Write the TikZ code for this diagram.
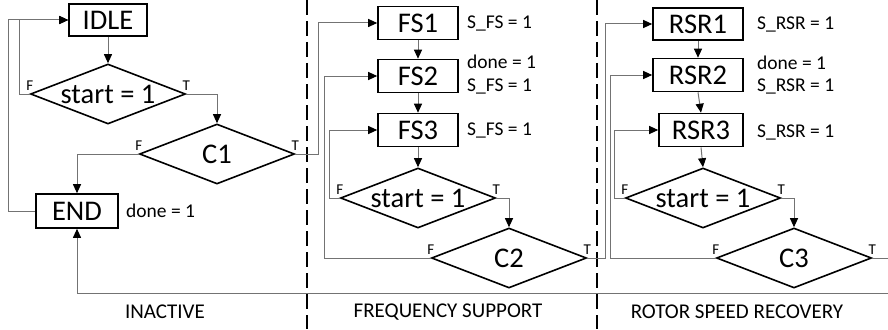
\documentclass[tikz,border=0pt]{standalone}
\usepackage{fontspec}
\setmainfont{Carlito}
\usetikzlibrary{shapes.geometric,arrows.meta}
\definecolor{conn}{gray}{0.45}
\tikzset{
  stbox/.style={draw=black, line width=1.6pt, inner sep=0pt, minimum width=80pt, minimum height=33pt, font=\fontsize{28.5}{30}\selectfont},
  dec/.style={diamond, draw=black, line width=1.6pt, inner sep=0pt, minimum width=155pt, minimum height=60pt, aspect=2.6, font=\fontsize{28.5}{30}\selectfont},
  lab/.style={anchor=west, inner sep=0pt, font=\fontsize{19.5}{20}\selectfont},
  tf/.style={anchor=south, inner sep=0pt, yshift=3pt, font=\fontsize{15}{16}\selectfont},
  sec/.style={inner sep=0pt, font=\fontsize{21}{22}\selectfont},
  conline/.style={draw=conn, line width=1pt},
  arr/.style={conline, -{Triangle[length=9pt, width=8pt, color=black]}},
  divider/.style={draw=black, line width=2.6pt, dash pattern=on 15pt off 6pt},
}
\begin{document}
\begin{tikzpicture}[x=1pt, y=-1pt]
\useasboundingbox (0,0) rectangle (888,329);
% dividers
\draw[divider] (307,0) -- (307,329);
\draw[divider] (597,0) -- (597,329);
% INACTIVE
\node[stbox, minimum width=78pt, minimum height=32pt] (idle) at (108,20) {IDLE};
\node[dec] (s1) at (108,94) {start = 1};
\node[dec] (c1) at (217,154) {C1};
\node[stbox, minimum width=82pt, minimum height=34pt] (end) at (77,211) {END};
\node[lab] (lend) at (126,211) {done = 1};
% FREQUENCY SUPPORT
\node[stbox] (fs1) at (418,23) {FS1};
\node[stbox] (fs2) at (418,76) {FS2};
\node[stbox] (fs3) at (418,130) {FS3};
\node[dec] (s2) at (418,198) {start = 1};
\node[dec] (c2) at (509,258) {C2};
\node[lab] (lfs1) at (467,23) {S\_FS = 1};
\node[lab] (lfs2a) at (467,62) {done = 1};
\node[lab] (lfs2b) at (467,86) {S\_FS = 1};
\node[lab] (lfs3) at (467,130) {S\_FS = 1};
% ROTOR SPEED RECOVERY
\node[stbox, minimum width=90pt, minimum height=32pt] (r1) at (698,24) {RSR1};
\node[stbox, minimum width=90pt, minimum height=33pt] (r2) at (698,75) {RSR2};
\node[stbox, minimum width=84pt, minimum height=33pt] (r3) at (701,130) {RSR3};
\node[dec] (s3) at (703,198) {start = 1};
\node[dec] (c3) at (794,258) {C3};
\node[lab] (lr1) at (757,24) {S\_RSR = 1};
\node[lab] (lr2a) at (757,63) {done = 1};
\node[lab] (lr2b) at (757,86) {S\_RSR = 1};
\node[lab] (lr3) at (757,132) {S\_RSR = 1};
% T/F labels
\foreach \d in {s1,c1,s2,c2,s3,c3}{
  \node[tf] (lblF\d) at (\d.west) {F};
  \node[tf] (lblT\d) at (\d.east) {T};
}
% section labels
\node[sec] (sinact) at (165,312) {INACTIVE};
\node[sec] (sfreq) at (448,312) {FREQUENCY SUPPORT};
\node[sec] (srot) at (737,312) {ROTOR SPEED RECOVERY};
% connectors INACTIVE
\draw[arr] (idle.south) -- (s1.north);
\draw[arr] (s1.west) -- ++(-10,0) |- (idle.west);
\draw[arr] (end.west) -- ++(-27,0) |- (idle.west);
\draw[arr] (s1.east) -| (c1.north);
\draw[arr] (c1.west) -| (end.north);
\draw[arr] (c1.east) -- ++(23,0) |- (fs1.west);
% connectors FS
\draw[arr] (fs1.south) -- (fs2.north);
\draw[arr] (fs2.south) -- (fs3.north);
\draw[arr] (fs3.south) -- (s2.north);
\draw[arr] (s2.west) -- ++(-10,0) |- (fs3.west);
\draw[arr] (s2.east) -| (c2.north);
\draw[arr] (c2.west) -- ++(-106.5,0) |- (fs2.west);
\draw[arr] (c2.east) -- ++(18.5,0) |- (r1.west);
% connectors RSR
\draw[arr] (r1.south) -- (r2.north);
\draw[arr] (r2.south) -- (r3.north);
\draw[arr] (r3.south) -- (s3.north);
\draw[arr] (s3.west) -- ++(-10,0) |- (r3.west);
\draw[arr] (s3.east) -| (c3.north);
\draw[arr] (c3.west) -- ++(-105,0) |- (r2.west);
\draw[arr] (c3.east) -- ++(20,0) -- ++(0,35) -| (end.south);
\end{tikzpicture}
\end{document}
